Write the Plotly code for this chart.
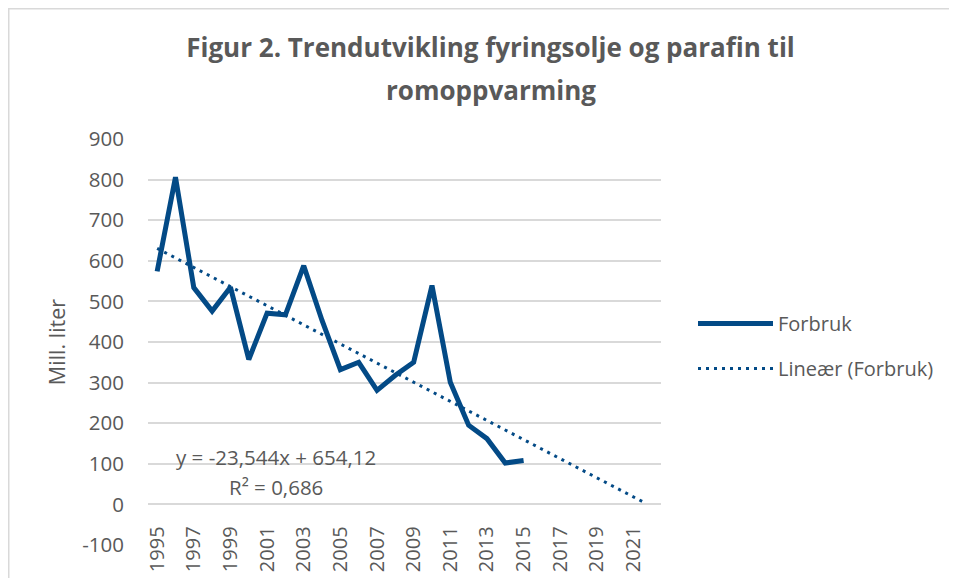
import plotly.graph_objects as go

# ---- data ----
years = list(range(1995, 2016))
forbruk = [574, 806, 534, 476, 535, 357, 471, 467, 588, 453, 332,
           350, 281, 318, 350, 539, 301, 195, 162, 102, 108]
trend_slope = -23.544
trend_intercept = 654.12
trend_end_year = 2021.5
x_ticks = list(range(1995, 2022, 2))
y_ticks = list(range(-100, 1000, 100))
y_tick_labels = [str(v) for v in y_ticks]  # plain hyphen for "-100"
title_line1 = "Figur 2. Trendutvikling fyringsolje og parafin til"
title_line2 = "romoppvarming"
eq_text = "y = -23,544x + 654,12"
r2_text = "R² = 0,686"

# trend line from the displayed equation (x = 1 for 1995)
trend_x = [years[0], trend_end_year]
trend_y = [trend_slope * (x - years[0] + 1) + trend_intercept for x in trend_x]

BLUE = "#034A86"
GREY = "#595959"
FONT = "Open Sans"

# layout geometry (page has an 8px body margin)
W, H = 957, 578
ML, MR, MT, MB = 140, 304, 131, 41
PW, PH = W - ML - MR, H - MT - MB


def px_to_paper_x(fx):
    return (fx - ML) / PW


def px_to_paper_y(fy):
    return (H - MB - fy) / PH


fig = go.Figure()
fig.add_trace(go.Scatter(x=years, y=forbruk, mode="lines", name="Forbruk",
                         legendgroup="a",
                         line=dict(color=BLUE, width=5, shape="linear")))
fig.add_trace(go.Scatter(x=trend_x, y=trend_y, mode="lines",
                         name="Lineær (Forbruk)", legendgroup="b",
                         line=dict(color=BLUE, width=3, dash="3px,5px")))

fig.add_annotation(x=2001.5, y=116, xref="x", yref="y", text=eq_text,
                   showarrow=False, font=dict(family=FONT, size=20.5, color=GREY))
fig.add_annotation(x=2001.5, y=43, xref="x", yref="y", text=r2_text,
                   showarrow=False, font=dict(family=FONT, size=20.5, color=GREY))

# second title line (Excel uses wider line spacing than Plotly's title)
fig.add_annotation(x=px_to_paper_x(482.5), y=px_to_paper_y(82), xref="paper",
                   yref="paper", text="<b>" + title_line2 + "</b>",
                   showarrow=False, xanchor="center", yanchor="middle",
                   font=dict(family=FONT, size=26, color=GREY))

# chart border (Excel chart area outline)
fig.add_shape(type="rect", xref="paper", yref="paper",
              x0=px_to_paper_x(0.5), x1=1.7, y0=-0.3, y1=px_to_paper_y(0.5),
              line=dict(color="#D9D9D9", width=2), fillcolor="rgba(0,0,0,0)",
              layer="below")

fig.update_layout(
    width=W, height=H,
    margin=dict(l=ML, r=MR, t=MT, b=MB, autoexpand=False),
    paper_bgcolor="white", plot_bgcolor="white",
    font=dict(family=FONT, color=GREY),
    title=dict(text="<b>" + title_line1 + "</b>", x=482.5 / W,
               xanchor="center", y=1 - 40 / H, yanchor="middle",
               font=dict(family=FONT, size=26, color=GREY)),
    legend=dict(x=px_to_paper_x(685), y=px_to_paper_y(338),
                xanchor="left", yanchor="middle",
                font=dict(family=FONT, size=20, color=GREY),
                tracegroupgap=16, itemwidth=75, bgcolor="rgba(0,0,0,0)"),
    showlegend=True,
)
fig.update_xaxes(range=[1994.5, 2022.5], tickmode="array", tickvals=x_ticks,
                 ticktext=[str(t) for t in x_ticks], tickangle=-90,
                 anchor="free", position=0.1, showgrid=False, zeroline=False,
                 showline=False, ticks="", ticklabelstandoff=17,
                 tickfont=dict(family=FONT, size=20, color=GREY))
fig.update_yaxes(range=[-100, 900], tickmode="array", tickvals=y_ticks,
                 ticktext=y_tick_labels,
                 showgrid=True, gridcolor="#D9D9D9", gridwidth=1.5,
                 zeroline=False, showline=False, ticks="",
                 ticklabelstandoff=23,
                 tickfont=dict(family=FONT, size=20.5, color=GREY),
                 title=dict(text="Mill. liter", standoff=10,
                            font=dict(family=FONT, size=21.5, color=GREY)))

fig.write_html("out.html")
